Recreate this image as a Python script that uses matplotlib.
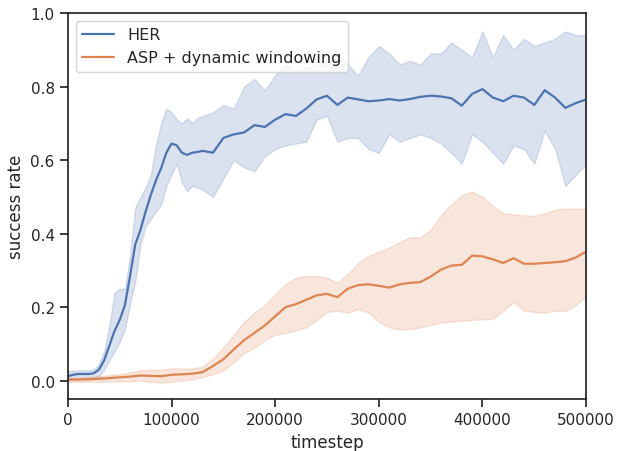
import matplotlib
matplotlib.use("Agg")
import matplotlib.pyplot as plt
import seaborn as sns

sns.set_theme(style="ticks", palette="deep")
plt.rcParams['font.family'] = ['DejaVu Sans']

# HER: finer sampling over the early ramp, then every 10k steps
her_steps = [0, 5000, 10000, 15000, 20000, 25000, 30000, 35000, 40000, 45000,
             50000, 55000, 60000, 65000, 70000, 75000, 80000, 85000, 90000, 95000,
             100000, 105000, 110000, 115000, 120000, 125000, 130000,
             140000, 150000, 160000, 170000, 180000, 190000, 200000, 210000, 220000,
             230000, 240000, 250000, 260000, 270000, 280000, 290000, 300000, 310000,
             320000, 330000, 340000, 350000, 360000, 370000, 380000, 390000, 400000,
             410000, 420000, 430000, 440000, 450000, 460000, 470000, 480000, 490000,
             500000]
her_mean = [0.012, 0.016, 0.018, 0.018, 0.018, 0.020, 0.030, 0.055, 0.095, 0.135,
            0.165, 0.205, 0.285, 0.370, 0.410, 0.460, 0.505, 0.545, 0.578, 0.620,
            0.645, 0.640, 0.620, 0.614, 0.620, 0.622, 0.625,
            0.620, 0.660, 0.670, 0.675, 0.695, 0.690, 0.710, 0.725, 0.720,
            0.740, 0.765, 0.775, 0.750, 0.770, 0.765, 0.760, 0.762, 0.766,
            0.762, 0.766, 0.772, 0.775, 0.773, 0.768, 0.748, 0.780, 0.793,
            0.770, 0.760, 0.775, 0.770, 0.750, 0.790, 0.770, 0.742, 0.755,
            0.765]
her_low = [0.000, 0.002, 0.003, 0.003, 0.003, 0.005, 0.012, 0.030, 0.055, 0.080,
           0.105, 0.140, 0.210, 0.270, 0.370, 0.420, 0.440, 0.460, 0.480, 0.530,
           0.560, 0.590, 0.540, 0.515, 0.530, 0.525, 0.520,
           0.500, 0.550, 0.600, 0.580, 0.570, 0.610, 0.630, 0.640, 0.645,
           0.650, 0.710, 0.720, 0.650, 0.660, 0.660, 0.630, 0.620, 0.670,
           0.650, 0.660, 0.670, 0.660, 0.645, 0.620, 0.590, 0.670, 0.650,
           0.620, 0.590, 0.640, 0.630, 0.590, 0.680, 0.630, 0.530, 0.560,
           0.590]
her_high = [0.025, 0.027, 0.028, 0.028, 0.028, 0.030, 0.045, 0.080, 0.150, 0.240,
            0.250, 0.250, 0.340, 0.470, 0.500, 0.525, 0.560, 0.640, 0.700, 0.740,
            0.730, 0.710, 0.700, 0.714, 0.700, 0.715, 0.720,
            0.730, 0.750, 0.740, 0.800, 0.820, 0.790, 0.830, 0.860, 0.840,
            0.850, 0.860, 0.860, 0.890, 0.860, 0.830, 0.880, 0.910, 0.890,
            0.860, 0.870, 0.860, 0.890, 0.890, 0.920, 0.900, 0.880, 0.950,
            0.880, 0.940, 0.900, 0.930, 0.910, 0.920, 0.930, 0.950, 0.940,
            0.940]

# ASP + dynamic windowing, every 10k steps
asp_steps = list(range(0, 500001, 10000))
asp_mean = [0.003, 0.003, 0.004, 0.005, 0.007, 0.009, 0.011, 0.014, 0.013, 0.012,
            0.016, 0.017, 0.019, 0.023, 0.040, 0.058, 0.085, 0.110, 0.130, 0.150,
            0.175, 0.200, 0.208, 0.220, 0.232, 0.236, 0.227, 0.250, 0.260, 0.262,
            0.258, 0.253, 0.262, 0.266, 0.268, 0.283, 0.302, 0.313, 0.315, 0.340,
            0.338, 0.330, 0.320, 0.333, 0.318, 0.318, 0.320, 0.322, 0.325, 0.335,
            0.351]
asp_low = [-0.003, -0.003, -0.003, -0.003, -0.002, -0.002, -0.002, 0.000, -0.003, -0.005,
           -0.003, 0.000, 0.003, 0.010, 0.018, 0.028, 0.050, 0.075, 0.090, 0.110,
           0.125, 0.130, 0.137, 0.145, 0.165, 0.187, 0.190, 0.185, 0.195, 0.185,
           0.160, 0.145, 0.140, 0.140, 0.145, 0.152, 0.158, 0.160, 0.163, 0.165,
           0.167, 0.168, 0.190, 0.214, 0.190, 0.187, 0.185, 0.190, 0.190, 0.205,
           0.232]
asp_high = [0.008, 0.008, 0.010, 0.012, 0.015, 0.018, 0.022, 0.028, 0.030, 0.030,
            0.034, 0.033, 0.033, 0.038, 0.060, 0.090, 0.125, 0.160, 0.185, 0.205,
            0.235, 0.262, 0.280, 0.285, 0.284, 0.280, 0.266, 0.290, 0.320, 0.340,
            0.350, 0.362, 0.377, 0.390, 0.390, 0.410, 0.450, 0.480, 0.505, 0.514,
            0.500, 0.475, 0.455, 0.452, 0.450, 0.448, 0.455, 0.465, 0.468, 0.468,
            0.468]

colors = sns.color_palette("deep")

fig = plt.figure(figsize=(6.17, 4.52), dpi=100)
ax = fig.add_axes([0.110, 0.115, 0.840, 0.854])

for steps, mean, low, high, col, name in [
    (her_steps, her_mean, her_low, her_high, colors[0], "HER"),
    (asp_steps, asp_mean, asp_low, asp_high, colors[1], "ASP + dynamic windowing"),
]:
    ax.fill_between(steps, low, high, color=col, alpha=0.2, linewidth=1)
    ax.plot(steps, mean, color=col, linewidth=1.6, label=name)

ax.set_xlim(0, 500000)
ax.set_ylim(-0.05, 1.0)
ax.set_xticks([0, 100000, 200000, 300000, 400000, 500000])
ax.set_yticks([0.0, 0.2, 0.4, 0.6, 0.8, 1.0])
ax.set_xlabel("timestep")
ax.set_ylabel("success rate")
ax.legend(loc="upper left", fontsize=11.5)

fig.savefig("out.png", dpi=100)
